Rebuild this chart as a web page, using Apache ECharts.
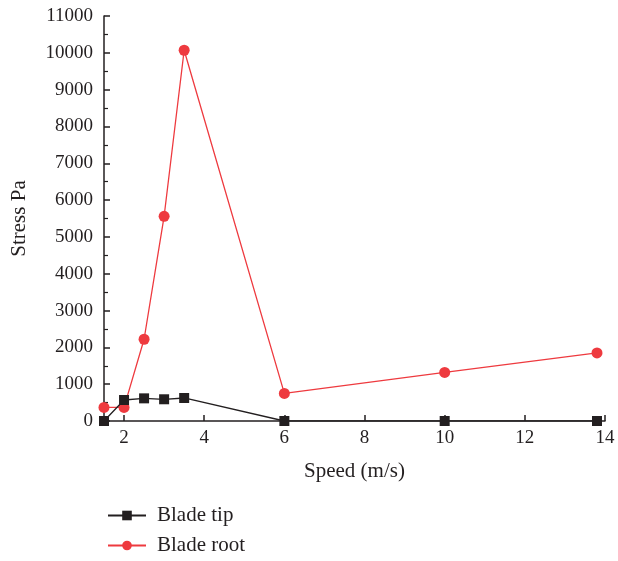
<!DOCTYPE html>
<html><head><meta charset="utf-8">
<script src="https://cdn.jsdelivr.net/npm/echarts@6/dist/echarts.min.js"></script>
<style>html,body{margin:0;padding:0;background:#fff}#c{width:618px;height:561px}</style>
</head><body><div id="c"></div>
<script>
const speedTip = [1.5, 2, 2.5, 3, 3.5, 6, 10, 13.8];
const stressTip = [0, 570, 615, 590, 625, 0, 0, 0];
const speedRoot = [1.5, 2, 2.5, 3, 3.5, 6, 10, 13.8];
const stressRoot = [370, 370, 2220, 5560, 10070, 750, 1320, 1850];
const xTicks = [2, 4, 6, 8, 10, 12, 14];
const yTicks = [0,1000,2000,3000,4000,5000,6000,7000,8000,9000,10000,11000];

const font = 'Liberation Serif';
const legText = {fontFamily: font, fontSize: 21, color: '#231f20', padding: [0,0,0,6]};
const chart = echarts.init(document.getElementById('c'));
chart.setOption({
  animation: false,
  backgroundColor: '#fff',
  textStyle: {fontFamily: font},
  grid: {left: 104, right: 13, top: 16, bottom: 140, containLabel: false, outerBoundsMode: 'none'},
  xAxis: {
    type: 'value', min: 1.5, max: 14,
    name: 'Speed (m/s)', nameLocation: 'middle', nameGap: 40,
    nameTextStyle: {fontFamily: font, fontSize: 21, color: '#231f20'},
    axisLine: {show: true, onZero: false, lineStyle: {color: '#231f20', width: 1.5}},
    axisTick: {show: true, inside: true, length: 6, lineStyle: {color: '#231f20', width: 1.5},
      customValues: xTicks},
    axisLabel: {fontFamily: font, fontSize: 19, color: '#231f20', margin: 8, customValues: xTicks},
    splitLine: {show: false}
  },
  yAxis: {
    type: 'value', min: 0, max: 11000, interval: 1000,
    name: 'Stress Pa', nameLocation: 'middle', nameGap: 74, nameRotate: 90,
    nameTextStyle: {fontFamily: font, fontSize: 21, color: '#231f20'},
    axisLine: {show: true, lineStyle: {color: '#231f20', width: 1.5}},
    axisTick: {show: true, inside: true, length: 6, lineStyle: {color: '#231f20', width: 1.5}},
    minorTick: {show: true, splitNumber: 2, length: 4, lineStyle: {color: '#231f20', width: 1.2}},
    axisLabel: {fontFamily: font, fontSize: 19, color: '#231f20', margin: 11,
      formatter: v => String(v)},
    splitLine: {show: false}
  },
  legend: [
    {left: 102, top: 500, itemWidth: 38, itemHeight: 12, textStyle: legText, data: ['Blade tip']},
    {left: 102, top: 530, itemWidth: 38, itemHeight: 12, textStyle: legText, data: ['Blade root']}
  ],
  series: [
    {
      name: 'Blade tip', type: 'line', symbol: 'rect', symbolSize: 10,
      data: speedTip.map((x, i) => [x, stressTip[i]]),
      lineStyle: {color: '#231f20', width: 1.3},
      itemStyle: {color: '#231f20'}, z: 3
    },
    {
      name: 'Blade root', type: 'line', symbol: 'circle', symbolSize: 11,
      data: speedRoot.map((x, i) => [x, stressRoot[i]]),
      lineStyle: {color: '#ee3a3f', width: 1.3},
      itemStyle: {color: '#ee3a3f'}, z: 2
    }
  ]
});
</script></body></html>
